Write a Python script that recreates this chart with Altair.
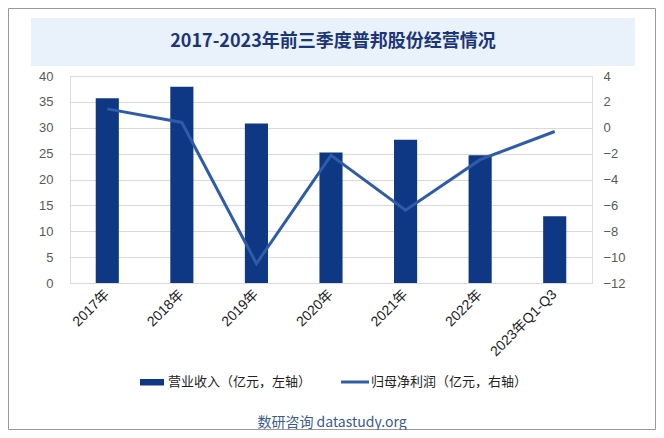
import altair as alt
import pandas as pd

categories = ["2017年", "2018年", "2019年", "2020年", "2021年", "2022年", "2023年Q1-Q3"]
revenue = [35.7, 37.9, 30.8, 25.2, 27.7, 24.7, 12.9]
net_profit = [1.46, 0.41, -10.5, -2.13, -6.37, -2.47, -0.29]

title_text = "2017-2023年前三季度普邦股份经营情况"
legend_bar = "营业收入（亿元，左轴）"
legend_line = "归母净利润（亿元，右轴）"
source_text = "数研咨询 datastudy.org"

BAR_COLOR = "#0f3884"
LINE_COLOR = "#2f5ca8"
LATIN = "Arial, 'Liberation Sans', 'Noto Sans CJK SC'"
CJK = "Noto Sans CJK SC"

df = pd.DataFrame({"cat": categories, "rev": revenue, "np": net_profit})
one = pd.DataFrame({"k": [0]})

W, H = 522, 207

xenc = alt.X(
    "cat:N", sort=categories, title=None,
    scale=alt.Scale(paddingInner=0.69, paddingOuter=0.345),
    axis=alt.Axis(labelAngle=-45, labelAlign="right", labelBaseline="middle",
                  labelFont=LATIN, labelFontSize=14, labelColor="#222222",
                  labelPadding=9, ticks=False, domain=True, domainColor="#d9d9d9",
                  grid=False),
)

bars = alt.Chart(df).mark_bar(color=BAR_COLOR).encode(
    x=xenc,
    y=alt.Y("rev:Q", title=None,
            scale=alt.Scale(domain=[0, 40], nice=False),
            axis=alt.Axis(values=list(range(0, 41, 5)), labelFont=LATIN, labelFontSize=13,
                          labelColor="#595959", labelPadding=17, ticks=False, domain=False,
                          grid=True, gridColor="#d9d9d9", gridWidth=1)),
)

line = alt.Chart(df).mark_line(color=LINE_COLOR, strokeWidth=3).encode(
    x=alt.X("cat:N", sort=categories),
    y=alt.Y("np:Q", title=None,
            scale=alt.Scale(domain=[-12, 4], nice=False),
            axis=alt.Axis(orient="right", values=list(range(-12, 5, 2)), labelFont=LATIN,
                          labelFontSize=13, labelColor="#595959", labelPadding=11,
                          ticks=False, domain=False, grid=False)),
)

border = alt.Chart(one).mark_rect(fillOpacity=0, stroke="#9a9a9a", strokeWidth=1).encode(
    x=alt.value(-61.5), x2=alt.value(585.5), y=alt.value(-67.5), y2=alt.value(353.5)
)
title_band = alt.Chart(one).mark_rect(fill="#e9f1fb").encode(
    x=alt.value(-39), x2=alt.value(565), y=alt.value(-58), y2=alt.value(-10)
)
title = alt.Chart(one).mark_text(
    text=title_text, font=CJK, fontSize=18, fontWeight="bold", color="#1c3578",
    align="center", baseline="middle"
).encode(x=alt.value(263), y=alt.value(-34))

leg_bar_sym = alt.Chart(one).mark_rect(color=BAR_COLOR).encode(
    x=alt.value(70), x2=alt.value(94), y=alt.value(303), y2=alt.value(309.5)
)
leg_bar_txt = alt.Chart(one).mark_text(
    text=legend_bar, font=CJK, fontSize=13, color="#222222", align="left", baseline="middle"
).encode(x=alt.value(98), y=alt.value(306))
leg_line_sym = alt.Chart(one).mark_rule(color=LINE_COLOR, strokeWidth=3).encode(
    x=alt.value(271), x2=alt.value(299), y=alt.value(306)
)
leg_line_txt = alt.Chart(one).mark_text(
    text=legend_line, font=CJK, fontSize=13, color="#222222", align="left", baseline="middle"
).encode(x=alt.value(301), y=alt.value(306))
source = alt.Chart(one).mark_text(
    text=source_text, font=CJK, fontSize=14, color="#3b5b8c", align="center", baseline="middle"
).encode(x=alt.value(262), y=alt.value(347))

chart = alt.layer(
    bars, line, border, title_band, title,
    leg_bar_sym, leg_bar_txt, leg_line_sym, leg_line_txt, source
).resolve_scale(y="independent").properties(
    width=W, height=H,
    padding={"left": 62, "top": 68, "right": 64, "bottom": 147},
    autosize=alt.AutoSizeParams(type="none"),
).configure_view(stroke=None).configure(background="white")

chart.save("out.html", embed_options={"renderer": "svg", "actions": False})
